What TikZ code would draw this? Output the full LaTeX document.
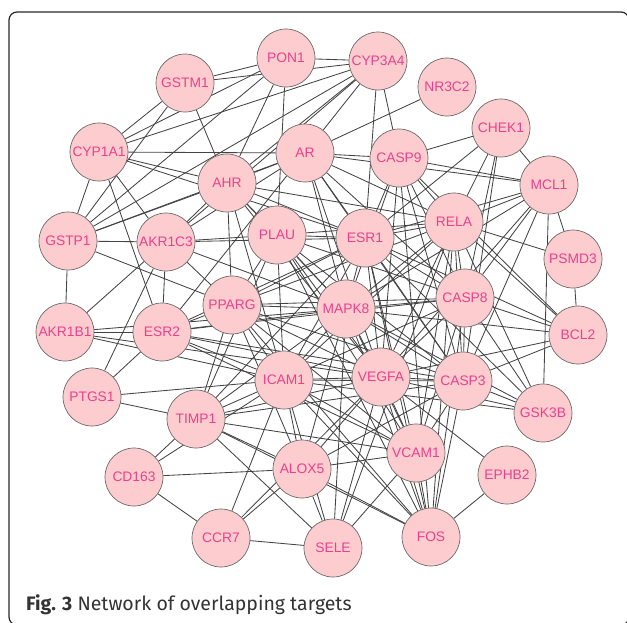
\documentclass[tikz,border=0pt]{standalone}
\usepackage{fontspec}
\setmainfont{Liberation Sans}
\newfontfamily\capfont{Fira Sans}
\usepackage{tikz}
\usetikzlibrary{backgrounds}

\definecolor{genefill}{RGB}{253,204,206}
\definecolor{genetext}{RGB}{236,64,140}
\definecolor{geneline}{RGB}{105,105,105}
\definecolor{linkcol}{RGB}{68,68,68}

\tikzset{
  gene/.style={circle, draw=geneline, line width=0.7pt, fill=genefill,
               minimum size=58pt, inner sep=0pt, text=genetext,
               font=\fontsize{13.8}{15}\selectfont},
  link/.style={linkcol, line width=0.85pt},
}

\begin{document}
\begin{tikzpicture}[x=1pt, y=-1pt]
\useasboundingbox (0,0) rectangle (627,622);

% ---- Frame and caption ----
\draw[black!85, line width=1.2pt, rounded corners=8pt] (9,12) rectangle (629,625);
\node[anchor=base west, inner sep=0pt, text=black!80,
      font=\capfont\fontsize{19.5}{22}\selectfont] (caption) at (26,610)
  {\textbf{Fig. 3} Network of overlapping targets};

% ---- Targets ----
\node[gene] (PON1)   at (286,58)  {PON1};
\node[gene] (CYP3A4) at (378,61)  {CYP3A4};
\node[gene] (GSTM1)  at (185,83)  {GSTM1};
\node[gene] (NR3C2)  at (447,87)  {NR3C2};
\node[gene] (CHEK1)  at (501,128) {CHEK1};
\node[gene] (CYP1A1) at (99,152)  {CYP1A1};
\node[gene] (AR)     at (305,153) {AR};
\node[gene] (CASP9)  at (399,158) {CASP9};
\node[gene] (AHR)    at (227,183) {AHR};
\node[gene] (MCL1)   at (549,185) {MCL1};
\node[gene] (RELA)   at (454,222) {RELA};
\node[gene] (PLAU)   at (277,235) {PLAU};
\node[gene] (ESR1)   at (365,238) {ESR1};
\node[gene] (GSTP1)  at (68,241)  {GSTP1};
\node[gene] (AKR1C3) at (166,242) {AKR1C3};
\node[gene] (PSMD3)  at (573,259) {PSMD3};
\node[gene] (CASP8)  at (465,298) {CASP8};
\node[gene] (PPARG)  at (232,305) {PPARG};
\node[gene] (MAPK8)  at (346,309) {MAPK8};
\node[gene] (AKR1B1) at (65,332)  {AKR1B1};
\node[gene] (ESR2)   at (162,332) {ESR2};
\node[gene] (BCL2)   at (578,335) {BCL2};
\node[gene] (ICAM1)  at (284,380) {ICAM1};
\node[gene] (VEGFA)  at (381,377) {VEGFA};
\node[gene] (CASP3)  at (463,381) {CASP3};
\node[gene] (PTGS1)  at (92,397)  {PTGS1};
\node[gene] (GSK3B)  at (543,413) {GSK3B};
\node[gene] (TIMP1)  at (196,419) {TIMP1};
\node[gene] (VCAM1)  at (416,453) {VCAM1};
\node[gene] (ALOX5)  at (302,469) {ALOX5};
\node[gene] (EPHB2)  at (507,475) {EPHB2};
\node[gene] (CD163)  at (134,477) {CD163};
\node[gene] (FOS)    at (431,537) {FOS};
\node[gene] (CCR7)   at (221,538) {CCR7};
\node[gene] (SELE)   at (333,548) {SELE};

% ---- Interactions ----
\begin{pgfonlayer}{background}
\foreach \a/\b in {
  GSTM1/PON1, GSTM1/CYP3A4, GSTM1/CYP1A1, GSTM1/GSTP1, GSTM1/AHR,
  PON1/CYP3A4, PON1/CYP1A1, PON1/GSTP1, PON1/PLAU, PON1/AHR,
  CYP3A4/CYP1A1, CYP3A4/AHR, CYP3A4/GSTP1, CYP3A4/AR, CYP3A4/CASP9,
  CYP3A4/ESR1, CYP3A4/AKR1C3,
  CYP1A1/AR, CYP1A1/AHR, CYP1A1/GSTP1, CYP1A1/AKR1C3, CYP1A1/ESR2, CYP1A1/ESR1,
  GSTP1/AHR, GSTP1/AR, GSTP1/AKR1C3, GSTP1/AKR1B1, GSTP1/PPARG,
  AKR1C3/AHR, AKR1C3/AR, AKR1C3/PLAU, AKR1C3/ESR1, AKR1C3/PPARG,
  AKR1C3/AKR1B1, AKR1C3/PTGS1, AKR1C3/MAPK8, AKR1C3/ESR2,
  AHR/AR, AHR/PLAU, AHR/ESR1, AHR/PPARG, AHR/RELA, AHR/MAPK8, AHR/VEGFA, AHR/ICAM1,
  AR/CASP9, AR/MCL1, AR/ESR1, AR/RELA, AR/MAPK8, AR/VEGFA, AR/CASP3, AR/CASP8,
  NR3C2/AR,
  CASP9/CHEK1, CASP9/MCL1, CASP9/ESR1, CASP9/RELA, CASP9/CASP8, CASP9/CASP3,
  CASP9/MAPK8, CASP9/VEGFA, CASP9/BCL2, CASP9/FOS,
  CHEK1/MCL1, CHEK1/RELA, CHEK1/CASP8, CHEK1/CASP3, CHEK1/ESR1,
  MCL1/RELA, MCL1/ESR1, MCL1/CASP8, MCL1/CASP3, MCL1/VEGFA, MCL1/MAPK8,
  MCL1/PSMD3, MCL1/GSK3B,
  RELA/PSMD3, RELA/ESR1, RELA/CASP8, RELA/CASP3, RELA/MAPK8, RELA/VEGFA,
  RELA/ICAM1, RELA/VCAM1, RELA/BCL2, RELA/GSK3B, RELA/FOS, RELA/PPARG,
  RELA/SELE, RELA/PLAU,
  PSMD3/BCL2,
  ESR1/PLAU, ESR1/MAPK8, ESR1/VEGFA, ESR1/CASP8, ESR1/CASP3, ESR1/PPARG,
  ESR1/ICAM1, ESR1/ESR2, ESR1/BCL2, ESR1/FOS, ESR1/VCAM1, ESR1/GSK3B, ESR1/TIMP1,
  PLAU/MAPK8, PLAU/VEGFA, PLAU/CASP3, PLAU/ICAM1, PLAU/PPARG, PLAU/VCAM1,
  PLAU/TIMP1, PLAU/CASP8, PLAU/FOS,
  PPARG/MAPK8, PPARG/VEGFA, PPARG/ICAM1, PPARG/ESR2, PPARG/TIMP1, PPARG/CASP3,
  PPARG/CASP8, PPARG/VCAM1, PPARG/ALOX5, PPARG/FOS,
  MAPK8/VEGFA, MAPK8/CASP8, MAPK8/CASP3, MAPK8/ICAM1, MAPK8/VCAM1, MAPK8/ESR2,
  MAPK8/FOS, MAPK8/TIMP1, MAPK8/BCL2, MAPK8/GSK3B, MAPK8/ALOX5, MAPK8/SELE,
  MAPK8/AKR1B1,
  CASP8/CASP3, CASP8/VEGFA, CASP8/BCL2, CASP8/GSK3B, CASP8/ICAM1, CASP8/FOS,
  CASP8/VCAM1, CASP8/ESR2,
  VEGFA/CASP3, VEGFA/ICAM1, VEGFA/VCAM1, VEGFA/FOS, VEGFA/ALOX5, VEGFA/SELE,
  VEGFA/TIMP1, VEGFA/ESR2, VEGFA/AKR1B1, VEGFA/GSK3B, VEGFA/BCL2, VEGFA/EPHB2,
  VEGFA/CCR7,
  CASP3/ICAM1, CASP3/VCAM1, CASP3/FOS, CASP3/GSK3B, CASP3/BCL2, CASP3/ESR2,
  CASP3/TIMP1, CASP3/ALOX5,
  ICAM1/VCAM1, ICAM1/ESR2, ICAM1/AKR1B1, ICAM1/PTGS1, ICAM1/TIMP1, ICAM1/ALOX5,
  ICAM1/SELE, ICAM1/CCR7, ICAM1/FOS, ICAM1/GSK3B, ICAM1/CD163,
  VCAM1/FOS, VCAM1/SELE, VCAM1/TIMP1, VCAM1/ALOX5, VCAM1/ESR2,
  TIMP1/PTGS1, TIMP1/CD163, TIMP1/ALOX5, TIMP1/SELE, TIMP1/FOS,
  ALOX5/CD163, ALOX5/CCR7, ALOX5/SELE, ALOX5/FOS,
  CD163/CCR7, CCR7/SELE, FOS/EPHB2,
  ESR2/AKR1B1, ESR2/PTGS1, ESR2/AR}
  \draw[link] (\a) -- (\b);
\end{pgfonlayer}

\end{tikzpicture}
\end{document}
